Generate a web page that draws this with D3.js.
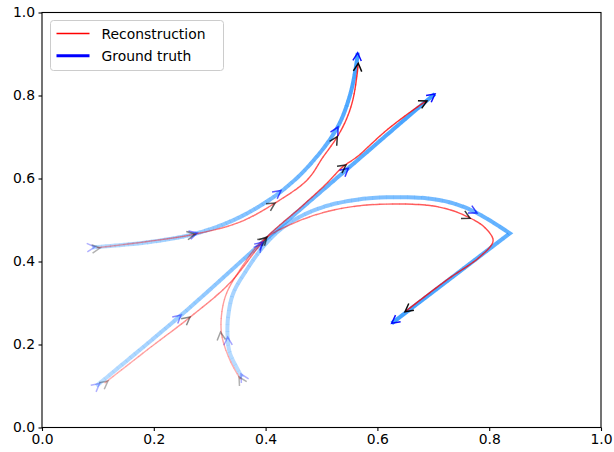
<!DOCTYPE html>
<html>
<head>
<meta charset="utf-8">
<script src="https://cdn.jsdelivr.net/npm/d3@7"></script>
<style>
  body { margin: 0; background: #fff; }
  text { font-family: "DejaVu Sans", sans-serif; font-size: 13.9px; fill: #000; }
</style>
</head>
<body>
<div id="chart"></div>
<script>
// Trajectories, in data units [x, y]
const truth1 = [[0.090, 0.434], [0.193, 0.447], [0.277, 0.468], [0.354, 0.507], [0.426, 0.567],
    [0.479, 0.633], [0.528, 0.722], [0.551, 0.801], [0.5635, 0.886], [0.5647, 0.903]];
const recon1 = [[0.098, 0.433], [0.193, 0.449], [0.274, 0.466], [0.354, 0.495], [0.417, 0.541],
    [0.474, 0.596], [0.503, 0.652], [0.528, 0.700], [0.544, 0.741], [0.556, 0.789],
    [0.5635, 0.849], [0.5658, 0.878]];

const truth2 = [[0.097, 0.100], [0.249, 0.271], [0.395, 0.447], [0.548, 0.625], [0.694, 0.794], [0.703, 0.8036]];
const recon2 = [[0.112, 0.107], [0.193, 0.192], [0.265, 0.266], [0.336, 0.348], [0.4025, 0.459],
    [0.4615, 0.529], [0.510, 0.589], [0.538, 0.628], [0.5635, 0.652], [0.617, 0.717],
    [0.682, 0.782], [0.6887, 0.7867]];

// truth3 has a sharp corner at index truth3Corner
const truth3 = [[0.358, 0.121], [0.336, 0.1795], [0.332, 0.219], [0.333, 0.267], [0.342, 0.323],
    [0.366, 0.3795], [0.396, 0.436], [0.428, 0.479], [0.466, 0.511], [0.512, 0.535],
    [0.569, 0.550], [0.628, 0.555], [0.690, 0.552], [0.736, 0.540], [0.778, 0.517], [0.837, 0.468],
    [0.6256, 0.2511]];
const truth3Corner = 15;
const recon3 = [[0.355, 0.116], [0.336, 0.1627], [0.3215, 0.223], [0.3215, 0.275], [0.330, 0.323],
    [0.354, 0.3795], [0.396, 0.452], [0.4495, 0.492], [0.509, 0.520], [0.569, 0.5345],
    [0.628, 0.5385], [0.690, 0.5355], [0.730, 0.5245], [0.7655, 0.505], [0.792, 0.482], [0.807, 0.450],
    [0.7835, 0.4115], [0.724, 0.3554], [0.6494, 0.279]];

// arrow tips along each trajectory
const truthArrows1 = [[0.0948, 0.435], [0.2778, 0.4687], [0.4275, 0.571], [0.5295, 0.724], [0.5647, 0.903]];
const reconArrows1 = [[0.1038, 0.4325], [0.2737, 0.4663], [0.4168, 0.541], [0.5283, 0.7007], [0.5658, 0.8776]];
const truthArrows2 = [[0.103, 0.106], [0.2487, 0.271], [0.3953, 0.447], [0.548, 0.6246], [0.703, 0.8036]];
const reconArrows2 = [[0.118, 0.112], [0.2648, 0.2663], [0.4025, 0.459], [0.5438, 0.6325], [0.6887, 0.7867]];
const truthArrows3 = [[0.356, 0.1289], [0.3322, 0.218], [0.3936, 0.442], [0.7782, 0.5169], [0.6256, 0.2511]];
const reconArrows3 = [[0.3524, 0.1217], [0.3193, 0.2301], [0.4007, 0.4566], [0.7657, 0.5041], [0.6494, 0.279]];

const xTicks = [0.0, 0.2, 0.4, 0.6, 0.8, 1.0];
const yTicks = [0.0, 0.2, 0.4, 0.6, 0.8, 1.0];
const legendLabels = ["Reconstruction", "Ground truth"];

const margin = { top: 12.5, right: 13, bottom: 24.5, left: 42 };
const W = 614, H = 452;
const width = W - margin.left - margin.right;
const height = H - margin.top - margin.bottom;

const xScale = d3.scaleLinear().domain([0, 1]).range([0, width]);
const yScale = d3.scaleLinear().domain([0, 1]).range([height, 0]);

const svg = d3.select('#chart').append('svg')
    .attr('width', W).attr('height', H);
const g = svg.append('g')
    .attr('transform', `translate(${margin.left}, ${margin.top})`);

const smooth = d3.line()
    .x(d => xScale(d[0]))
    .y(d => yScale(d[1]))
    .curve(d3.curveCatmullRom.alpha(0.5));
const straight = d3.line()
    .x(d => xScale(d[0]))
    .y(d => yScale(d[1]));

// build path string; points after `corner` joined by straight lines
function pathString(pts, corner) {
    if (corner === undefined) return smooth(pts);
    return smooth(pts.slice(0, corner + 1)) + straight(pts.slice(corner)).replace(/^M/, 'L');
}

// draw a trajectory with alpha rising from start to end
function drawLine(pts, opts) {
    const d = pathString(pts, opts.corner);
    const probe = g.append('path').attr('d', d).attr('fill', 'none').attr('stroke', 'none');
    const total = probe.node().getTotalLength();
    probe.remove();
    const pieces = 80;
    const step = total / pieces;

    for (let i = 0; i < pieces; i++) {
        g.append('path')
            .attr('d', d)
            .attr('fill', 'none')
            .attr('stroke', opts.color)
            .attr('stroke-width', opts.width)
            .attr('stroke-opacity', opts.a0 + (opts.a1 - opts.a0) * (i + 0.5) / pieces)
            .attr('stroke-dasharray', `${step + 0.3} ${total + 10}`)
            .attr('stroke-dashoffset', -i * step);
    }
}

// open arrowheads placed at given points, pointing along the trajectory
function drawArrows(pts, arrows, opts) {
    const probe = g.append('path').attr('d', pathString(pts, opts.corner)).attr('fill', 'none').attr('stroke', 'none');
    const node = probe.node();
    const total = node.getTotalLength();
    const samples = d3.range(0, total + 0.5, 0.5).map(l => {
        const p = node.getPointAtLength(Math.min(l, total));
        return { l: Math.min(l, total), x: p.x, y: p.y };
    });

    arrows.forEach(a => {
        const px = xScale(a[0]), py = yScale(a[1]);
        let best = samples[0], bd = Infinity;
        samples.forEach(s => {
            const dd = (s.x - px) ** 2 + (s.y - py) ** 2;
            if (dd < bd) { bd = dd; best = s; }
        });
        const p0 = node.getPointAtLength(Math.max(0, best.l - 3));
        const p1 = node.getPointAtLength(Math.min(total, best.l + 3));
        let dx = p1.x - p0.x, dy = p1.y - p0.y;
        const n = Math.hypot(dx, dy) || 1;
        dx /= n; dy /= n;
        const L = 8, Wd = 4.2;
        const bx = px - L * dx, by = py - L * dy;
        g.append('path')
            .attr('d', `M${bx - Wd * dy},${by + Wd * dx}L${px},${py}L${bx + Wd * dy},${by - Wd * dx}`)
            .attr('fill', 'none')
            .attr('stroke', opts.arrowColor)
            .attr('stroke-width', 1.5)
            .attr('stroke-opacity', 0.3 + 0.65 * best.l / total);
    });
    probe.remove();
}

const truthStyle = { color: 'rgb(30,144,255)', width: 4, a0: 0.3, a1: 0.85, arrowColor: '#0000ff' };
const reconStyle = { color: '#ff0000', width: 1.4, a0: 0.3, a1: 0.85, arrowColor: '#000000' };
const truth3Style = Object.assign({ corner: truth3Corner }, truthStyle);

drawLine(truth1, truthStyle);
drawLine(recon1, reconStyle);
drawLine(truth2, truthStyle);
drawLine(recon2, reconStyle);
drawLine(truth3, truth3Style);
drawLine(recon3, reconStyle);

drawArrows(truth1, truthArrows1, truthStyle);
drawArrows(recon1, reconArrows1, reconStyle);
drawArrows(truth2, truthArrows2, truthStyle);
drawArrows(recon2, reconArrows2, reconStyle);
drawArrows(truth3, truthArrows3, truth3Style);
drawArrows(recon3, reconArrows3, reconStyle);

// axes
const xAxis = g.append('g')
    .attr('transform', `translate(0, ${height})`)
    .call(d3.axisBottom(xScale).tickValues(xTicks).tickFormat(d3.format('.1f')).tickSizeOuter(0).tickSize(3.5).tickPadding(3.5));
const yAxis = g.append('g')
    .call(d3.axisLeft(yScale).tickValues(yTicks).tickFormat(d3.format('.1f')).tickSizeOuter(0).tickSize(3.5).tickPadding(3.5));
[xAxis, yAxis].forEach(a => {
    a.select('.domain').remove();
    a.selectAll('line').attr('stroke', '#000').attr('stroke-width', 1.1);
    a.selectAll('text').attr('font-family', '"DejaVu Sans", sans-serif').attr('font-size', '13.9px').attr('fill', '#000');
});

// frame
g.append('rect')
    .attr('x', 0).attr('y', 0)
    .attr('width', width).attr('height', height)
    .attr('fill', 'none')
    .attr('stroke', '#000')
    .attr('stroke-width', 1.1);

// legend
const legend = svg.append('g').attr('transform', 'translate(50.5, 20.5)');
legend.append('rect')
    .attr('width', 173).attr('height', 50)
    .attr('rx', 3)
    .attr('fill', '#fff').attr('fill-opacity', 0.8)
    .attr('stroke', '#cccccc').attr('stroke-width', 1);
const legendColors = ['#ff0000', '#0000ff'];
const legendWidths = [1.5, 3];
legendLabels.forEach((lab, i) => {
    const yy = 13 + i * 22.3;
    legend.append('line')
        .attr('x1', 6).attr('x2', 39)
        .attr('y1', yy).attr('y2', yy)
        .attr('stroke', legendColors[i])
        .attr('stroke-width', legendWidths[i]);
    legend.append('text')
        .attr('x', 51).attr('y', yy + 5)
        .text(lab);
});
</script>
</body>
</html>
